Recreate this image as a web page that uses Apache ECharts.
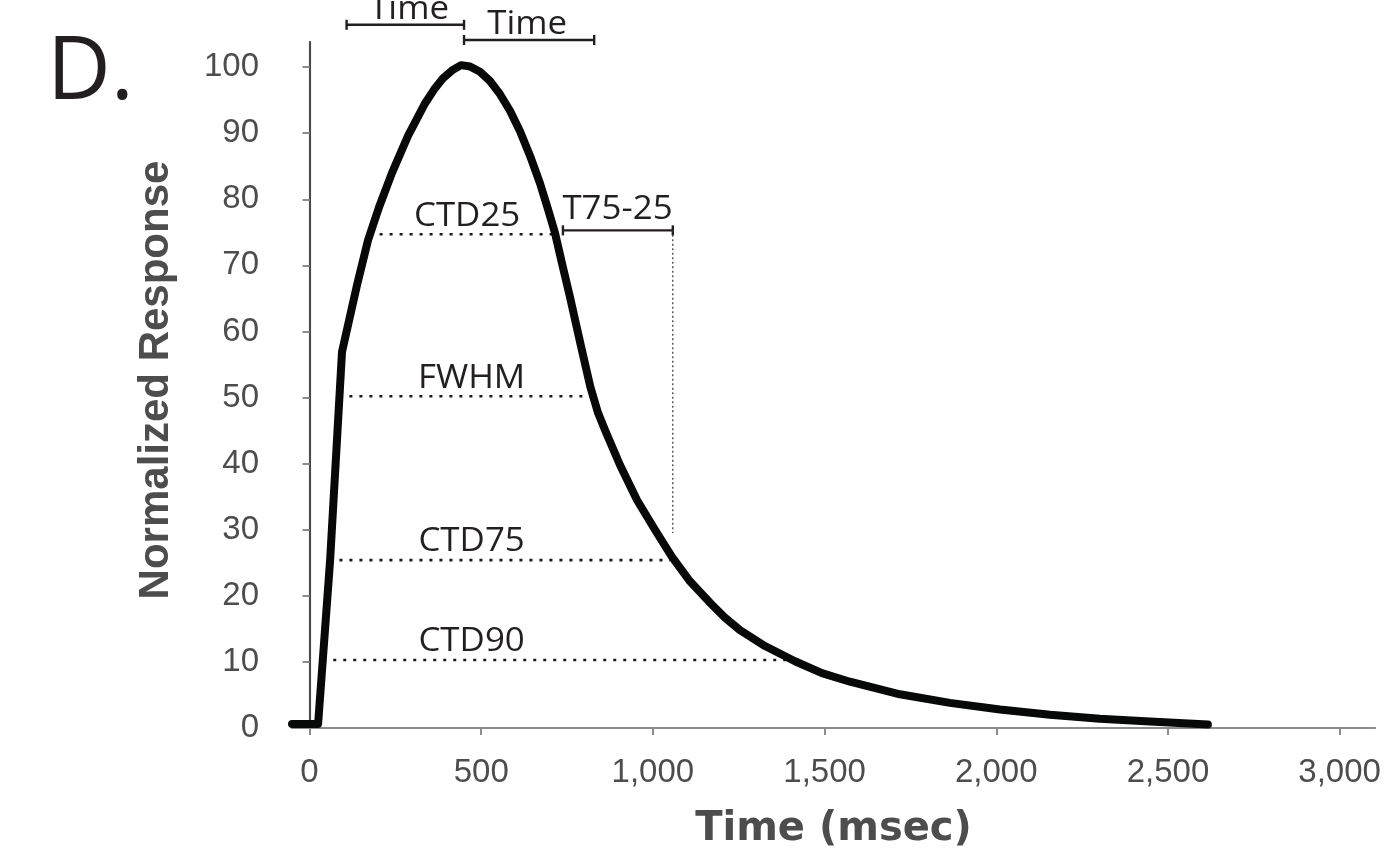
<!DOCTYPE html>
<html>
<head>
<meta charset="utf-8">
<script src="https://cdn.jsdelivr.net/npm/echarts@6/dist/echarts.min.js"></script>
<style>
html,body{margin:0;padding:0;background:#ffffff;}
#chart{width:1384px;height:850px;}
</style>
</head>
<body>
<div id="chart"></div>
<script>
// ---- data ----
const timeMs = [-51, 25, 60, 94.6, 138.3, 170.4, 202.4, 240.2, 286.8, 336.3, 362.6, 388.8, 415.0, 441.2,
  467.4, 496.5, 525.6, 554.7, 583.9, 613.0, 642.1, 671.3, 694.6, 714.9, 735.3, 758.6, 790.6, 817.5, 840.2,
  860.5, 904.2, 953.7, 1006.1, 1055.6, 1108.0, 1169.2, 1209.8, 1253.6, 1326.5, 1413.8, 1492.4, 1573.9,
  1719.5, 1865.1, 2010.7, 2156.3, 2301.9, 2447.5, 2616.4];
const response = [0.6, 0.6, 25.4, 56.9, 67.0, 73.8, 78.8, 84.0, 89.6, 94.5, 96.6, 98.3, 99.5, 100.3,
  100.1, 99.3, 97.9, 95.9, 93.4, 90.3, 86.6, 82.4, 78.5, 74.9, 70.3, 65.2, 57.8, 51.7, 47.7,
  45.1, 39.8, 34.5, 30.0, 25.9, 22.2, 18.8, 16.7, 14.8, 12.4, 10.1, 8.3, 7.0,
  5.1, 3.8, 2.8, 2.0, 1.4, 0.98, 0.53];

const xTickValues = [0, 500, 1000, 1500, 2000, 2500, 3000];
const yTickValues = [0, 10, 20, 30, 40, 50, 60, 70, 80, 90, 100];

// dotted level lines
const levelNames = ['CTD25', 'FWHM', 'CTD75', 'CTD90'];
const levelY = [74.7, 50.2, 25.4, 10.3];
const levelStart = [175, 87, 58, 40];
const levelEnd = [715, 822, 1050, 1405];
const levelLabelX = [459, 472, 472, 472];
const levelLabelY = [77.3, 52.8, 28.1, 13.0];

// bracket annotations
const bracketNames = ['Time', 'Time', 'T75-25'];
const bracketStart = [108, 450, 738];
const bracketEnd = [450, 829, 1058];
const bracketY = [106.4, 104.1, 75.3];
const bracketLabelX = [290, 634, 897];
const bracketLabelY = [108.6, 106.4, 78.4];

// vertical dotted guide
const guideX = [1058];
const guideTop = [75.3];
const guideBottom = [29.5];

const curveData = timeMs.map((t, i) => [t, response[i]]);
const levelData = levelNames.map((n, i) => ({name: n, value: [levelStart[i], levelEnd[i], levelY[i], levelLabelX[i], levelLabelY[i]]}));
const bracketData = bracketNames.map((n, i) => ({name: n, value: [bracketStart[i], bracketEnd[i], bracketY[i], bracketLabelX[i], bracketLabelY[i]]}));
const guideData = guideX.map((x, i) => [x, guideTop[i], guideBottom[i]]);

const annFont = {fontFamily: 'Open Sans', fontSize: 32, fill: '#231f20'};
const ANN_STRETCH = 1.09;
const X_MIN = -51, X_MAX = 3103, Y_MIN = 0, Y_MAX = 103.8;

const chart = echarts.init(document.getElementById('chart'), null, {renderer: 'canvas'});

function annText(str, p) {
  return {type: 'text', x: p[0], y: p[1], scaleX: ANN_STRETCH, scaleY: 1,
    style: Object.assign({text: str, align: 'center', verticalAlign: 'middle'}, annFont)};
}

function renderLevel(params, api) {
  const p1 = api.coord([api.value(0), api.value(2)]);
  const p2 = api.coord([api.value(1), api.value(2)]);
  const pl = api.coord([api.value(3), api.value(4)]);
  return {
    type: 'group',
    children: [
      {type: 'line', shape: {x1: p1[0], y1: p1[1], x2: p2[0], y2: p2[1]},
       style: {stroke: '#1a1a1a', lineWidth: 2.6, lineDash: [3, 7]}},
      annText(levelNames[params.dataIndex], pl)
    ]
  };
}

function renderBracket(params, api) {
  const p1 = api.coord([api.value(0), api.value(2)]);
  const p2 = api.coord([api.value(1), api.value(2)]);
  const pl = api.coord([api.value(3), api.value(4)]);
  const st = {stroke: '#231f20', lineWidth: 2.4};
  return {
    type: 'group',
    children: [
      {type: 'line', shape: {x1: p1[0], y1: p1[1], x2: p2[0], y2: p2[1]}, style: st},
      {type: 'line', shape: {x1: p1[0], y1: p1[1] - 5, x2: p1[0], y2: p1[1] + 5}, style: st},
      {type: 'line', shape: {x1: p2[0], y1: p2[1] - 5, x2: p2[0], y2: p2[1] + 5}, style: st},
      annText(bracketNames[params.dataIndex], pl)
    ]
  };
}

function renderGuide(params, api) {
  const p1 = api.coord([api.value(0), api.value(1)]);
  const p2 = api.coord([api.value(0), api.value(2)]);
  return {type: 'line', shape: {x1: p1[0], y1: p1[1], x2: p2[0], y2: p2[1]},
          style: {stroke: '#333333', lineWidth: 1.2, lineDash: [2, 2.5]}};
}

const tickFont = {fontFamily: 'Liberation Sans', fontSize: 33, color: '#4d4d4d'};

chart.setOption({
  animation: false,
  backgroundColor: '#ffffff',
  title: {
    text: 'D.', left: 42, top: 25,
    textStyle: {fontFamily: 'Open Sans', fontSize: 88, fontWeight: 'normal', color: '#231f20'}
  },
  grid: {left: 292, right: 9, top: 42, bottom: 122, containLabel: false, outerBoundsMode: 'none'},
  xAxis: [
    {
      type: 'value', min: X_MIN, max: X_MAX, position: 'bottom', offset: 12,
      name: 'Time (msec)', nameLocation: 'middle', nameGap: 70,
      nameTextStyle: {fontFamily: 'DejaVu Sans', fontWeight: 'bold', fontSize: 40, color: '#4d4d4d'},
      axisLine: {show: true, lineStyle: {color: '#8c8c8c', width: 2.2}},
      axisTick: {show: true, length: 7, customValues: xTickValues, lineStyle: {color: '#8c8c8c', width: 2}},
      axisLabel: Object.assign({customValues: xTickValues, margin: 16,
        formatter: v => v.toLocaleString('en-US')}, tickFont),
      splitLine: {show: false}
    },
    {
      type: 'value', min: X_MIN, max: X_MAX, position: 'bottom', offset: 0,
      axisLine: {show: true, lineStyle: {color: '#8c8c8c', width: 2.2}},
      axisTick: {show: false}, axisLabel: {show: false}, splitLine: {show: false}
    }
  ],
  yAxis: [
    {
      type: 'value', min: Y_MIN, max: Y_MAX, position: 'left', offset: 14,
      name: 'Normalized Response', nameLocation: 'middle', nameGap: 101, nameRotate: 90,
      nameTextStyle: {fontFamily: 'Liberation Sans', fontWeight: 'bold', fontSize: 42, color: '#4d4d4d',
        padding: [0, 0, 0, 10]},
      axisLine: {show: true, lineStyle: {color: '#8c8c8c', width: 2.2}},
      axisTick: {show: true, length: 7, customValues: yTickValues, lineStyle: {color: '#8c8c8c', width: 2}},
      axisLabel: Object.assign({customValues: yTickValues, margin: 19}, tickFont),
      splitLine: {show: false}
    },
    {
      type: 'value', min: Y_MIN, max: Y_MAX, position: 'left', offset: 0,
      axisLine: {show: true, lineStyle: {color: '#4a4a4a', width: 2}},
      axisTick: {show: false}, axisLabel: {show: false}, splitLine: {show: false}
    }
  ],
  series: [
    {
      type: 'custom', name: 'levels', xAxisIndex: 0, yAxisIndex: 0,
      renderItem: renderLevel, clip: false, silent: true, z: 2,
      encode: {x: [0, 1, 3], y: [2, 4]},
      data: levelData
    },
    {
      type: 'custom', name: 'brackets', xAxisIndex: 0, yAxisIndex: 0,
      renderItem: renderBracket, clip: false, silent: true, z: 2,
      encode: {x: [0, 1, 3], y: [2, 4]},
      data: bracketData
    },
    {
      type: 'custom', name: 'guide', xAxisIndex: 0, yAxisIndex: 0,
      renderItem: renderGuide, clip: false, silent: true, z: 2,
      encode: {x: [0], y: [1, 2]},
      data: guideData
    },
    {
      type: 'line', name: 'response', xAxisIndex: 0, yAxisIndex: 0,
      data: curveData, showSymbol: false, symbol: 'none',
      smooth: false, clip: false, z: 5,
      lineStyle: {color: '#070808', width: 8, cap: 'round', join: 'round'}
    }
  ]
});
</script>
</body>
</html>
